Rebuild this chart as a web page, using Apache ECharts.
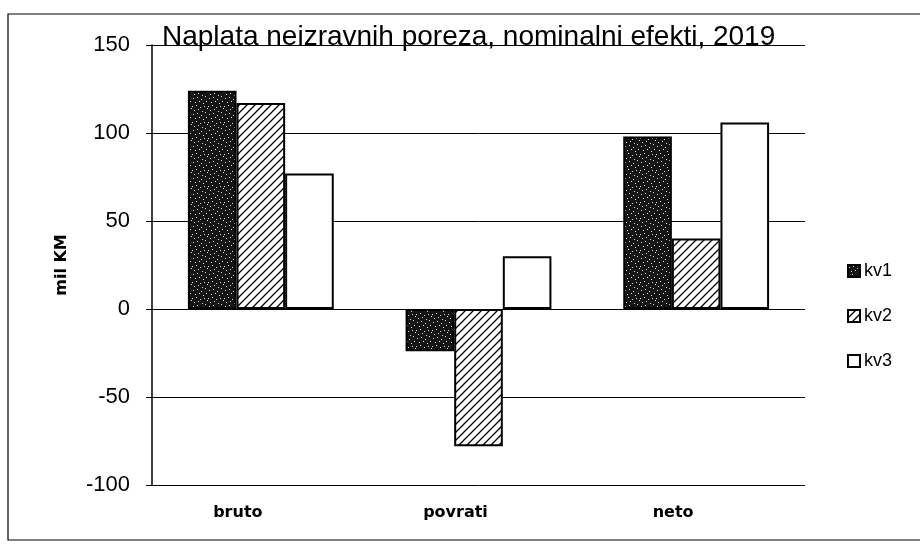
<!DOCTYPE html>
<html>
<head>
<meta charset="utf-8">
<script src="https://cdn.jsdelivr.net/npm/echarts@6/dist/echarts.min.js"></script>
<style>
  html, body { margin: 0; padding: 0; background: #fff; }
  #chart { width: 920px; height: 548px; }
</style>
</head>
<body>
<div id="chart"></div>
<script>
var categories = ['bruto', 'povrati', 'neto']
var seriesNames = ['kv1', 'kv2', 'kv3']
var kv1 = [124, -24, 98]
var kv2 = [117, -78, 40]
var kv3 = [77, 30, 106]
var yTicks = { min: -100, max: 150, interval: 50 }

// dark speckled fill for kv1
function speckle() {
  var c = document.createElement('canvas')
  c.width = 16
  c.height = 16
  var ctx = c.getContext('2d')
  ctx.fillStyle = '#151515'
  ctx.fillRect(0, 0, 16, 16)
  ctx.fillStyle = '#d8d8d8'
  var dots = [[1, 2], [5, 1], [9, 3], [13, 0], [3, 6], [7, 5], [11, 7], [14, 5],
    [0, 10], [4, 9], [8, 11], [12, 10], [2, 14], [6, 13], [10, 15], [15, 12]]
  dots.forEach(function (d) { ctx.fillRect(d[0], d[1], 1, 1) })
  return c
}

// diagonal hatching for kv2
function hatch() {
  var c = document.createElement('canvas')
  c.width = 8
  c.height = 8
  var ctx = c.getContext('2d')
  ctx.fillStyle = '#fff'
  ctx.fillRect(0, 0, 8, 8)
  ctx.strokeStyle = '#000'
  ctx.lineWidth = 1.3
  ctx.beginPath()
  ctx.moveTo(-2, 10); ctx.lineTo(10, -2)
  ctx.moveTo(-2, 2); ctx.lineTo(2, -2)
  ctx.moveTo(6, 10); ctx.lineTo(10, 6)
  ctx.stroke()
  return c
}

var fills = [
  { image: speckle(), repeat: 'repeat' },
  { image: hatch(), repeat: 'repeat' },
  '#ffffff'
]
var values = [kv1, kv2, kv3]

var chart = echarts.init(document.getElementById('chart'))
chart.setOption({
  animation: false,
  backgroundColor: '#fff',
  title: {
    text: 'Naplata neizravnih poreza, nominalni efekti, 2019',
    left: 157,
    top: 18,
    textStyle: {
      fontFamily: 'Liberation Sans',
      fontSize: 28,
      fontWeight: 'normal',
      color: '#000'
    }
  },
  graphic: [{
    type: 'rect',
    shape: { x: 8, y: 14, width: 930, height: 526 },
    style: { fill: 'none', stroke: '#000', lineWidth: 1.2 },
    silent: true
  }],
  legend: {
    orient: 'vertical',
    left: 842,
    top: 257,
    itemGap: 27,
    itemWidth: 12,
    itemHeight: 12,
    icon: 'rect',
    textStyle: { fontFamily: 'Liberation Sans', fontSize: 18, color: '#000', padding: [0, 0, 0, -1] },
    data: seriesNames
  },
  grid: { left: 152, right: 115, top: 45, bottom: 63 },
  xAxis: {
    type: 'category',
    data: categories,
    axisLine: { show: false },
    axisTick: { show: false },
    axisLabel: {
      margin: 20,
      padding: [0, 46, 0, 0],
      fontFamily: 'DejaVu Sans',
      fontSize: 16,
      fontWeight: 'bold',
      color: '#000'
    }
  },
  yAxis: {
    type: 'value',
    min: yTicks.min,
    max: yTicks.max,
    interval: yTicks.interval,
    name: 'mil KM',
    nameLocation: 'middle',
    nameGap: 82,
    nameTextStyle: { fontFamily: 'DejaVu Sans', fontSize: 16, fontWeight: 'bold', color: '#000' },
    axisLine: { show: true, lineStyle: { color: '#000', width: 1.5 } },
    axisTick: { show: true, length: 6, lineStyle: { color: '#000' } },
    axisLabel: { fontFamily: 'Liberation Sans', fontSize: 22, color: '#000', margin: 22 },
    splitLine: { lineStyle: { color: '#000', width: 1 } }
  },
  series: seriesNames.map(function (name, i) {
    return {
      name: name,
      type: 'bar',
      data: values[i],
      barGap: '0%',
      barCategoryGap: '33%',
      itemStyle: {
        color: fills[i],
        borderColor: '#000',
        borderWidth: 2
      }
    }
  })
})
</script>
</body>
</html>
